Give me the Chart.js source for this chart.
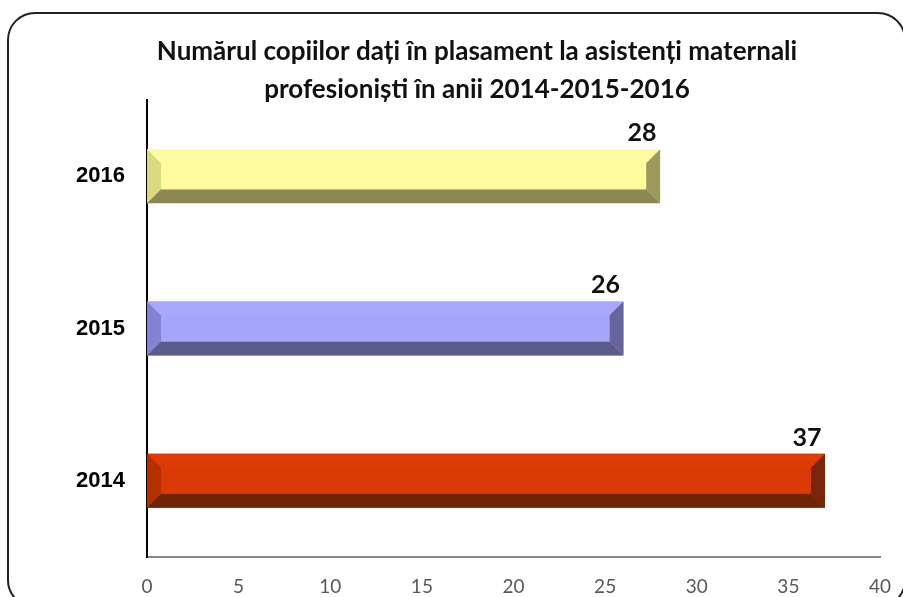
<!DOCTYPE html>
<html>
<head>
<meta charset="utf-8">
<script src="https://cdn.jsdelivr.net/npm/chart.js@4"></script>
<style>
  html, body { margin: 0; padding: 0; background: #fff; }
  #wrap { position: relative; width: 903px; height: 597px; overflow: hidden; }
  #frame {
    position: absolute; left: 7px; top: 12px; width: 899px; height: 596px;
    border: 2px solid #222; border-radius: 28px; box-sizing: border-box;
  }
  #chart { position: absolute; left: 0; top: 0; }
</style>
</head>
<body>
<div id="wrap">
  <div id="frame"></div>
  <canvas id="chart" width="903" height="597"></canvas>
</div>
<script>
const titleLines = ['Numărul copiilor dați în plasament la asistenți maternali', 'profesioniști în anii 2014-2015-2016']
const years = ['2016', '2015', '2014']
const children = [28, 26, 37]
const xTicks = [0, 5, 10, 15, 20, 25, 30, 35, 40]

// face, top, left, right, bottom
const bevelColors = [
  ['#fefc9c', '#fefc9f', '#dcda80', '#9d995e', '#8b8853'],
  ['#a5a5fa', '#a8a8fb', '#8383d4', '#65659c', '#5b5b8a'],
  ['#da3a05', '#de3c04', '#b43000', '#7a2508', '#6d2407'],
]

const bevelPlugin = {
  id: 'bevel',
  afterDatasetsDraw(chart) {
    const ctx = chart.ctx
    const meta = chart.getDatasetMeta(0)
    meta.data.forEach((bar, i) => {
      const { x, y, base, height } = bar.getProps(['x', 'y', 'base', 'height'], true)
      const l = Math.min(x, base), r = Math.max(x, base)
      const t = y - height / 2, b = y + height / 2
      const d = 14
      const c = bevelColors[i]
      const poly = (pts, col) => {
        ctx.beginPath()
        ctx.moveTo(pts[0][0], pts[0][1])
        pts.slice(1).forEach(p => ctx.lineTo(p[0], p[1]))
        ctx.closePath()
        ctx.fillStyle = col
        ctx.fill()
      }
      ctx.save()
      poly([[l, t], [r, t], [r - d, t + d], [l + d, t + d]], c[1])
      poly([[l, t], [l + d, t + d], [l + d, b - d], [l, b]], c[2])
      poly([[r, t], [r, b], [r - d, b - d], [r - d, t + d]], c[3])
      poly([[l, b], [r, b], [r - d, b - d], [l + d, b - d]], c[4])
      poly([[l + d, t + d], [r - d, t + d], [r - d, b - d], [l + d, b - d]], c[0])
      // value label
      ctx.fillStyle = '#111'
      ctx.font = 'bold 25px Lato'
      ctx.textAlign = 'center'
      ctx.textBaseline = 'alphabetic'
      ctx.fillText(String(children[i]), x - 18, t - 8)
      ctx.restore()
    })
  },
}

new Chart(document.getElementById('chart'), {
  type: 'bar',
  data: {
    labels: years,
    datasets: [
      {
        data: children,
        backgroundColor: bevelColors.map(c => c[0]),
        borderWidth: 0,
        categoryPercentage: 1,
        barPercentage: 0.355,
      },
    ],
  },
  options: {
    indexAxis: 'y',
    responsive: false,
    animation: false,
    layout: { padding: { left: 74, right: 23, top: 33, bottom: 0 } },
    plugins: {
      legend: { display: false },
      tooltip: { enabled: false },
      title: {
        display: true,
        text: titleLines,
        color: '#111',
        font: { family: 'Lato', size: 26, weight: 'bold', lineHeight: '38px' },
        padding: { top: 0, bottom: -9 },
      },
    },
    scales: {
      x: {
        min: 0,
        max: 40,
        grid: { display: false, drawTicks: false },
        border: { display: true, color: '#868686', width: 2 },
        afterBuildTicks: (scale) => {
          scale.ticks = xTicks.map(v => ({ value: v }))
        },
        afterFit: (scale) => {
          scale.paddingLeft = 0
          scale.paddingRight = 0
          scale.height = 40
        },
        ticks: {
          color: '#595959',
          padding: 18,
          font: { family: 'Lato', size: 19 },
        },
      },
      y: {
        grid: { display: false, drawTicks: false },
        border: { display: true, color: '#000', width: 2 },
        afterFit: (scale) => {
          scale.width = 73
        },
        ticks: {
          color: '#000',
          padding: 22,
          font: { family: 'Liberation Sans', size: 22, weight: 'bold' },
        },
      },
    },
  },
  plugins: [bevelPlugin],
})
</script>
</body>
</html>
